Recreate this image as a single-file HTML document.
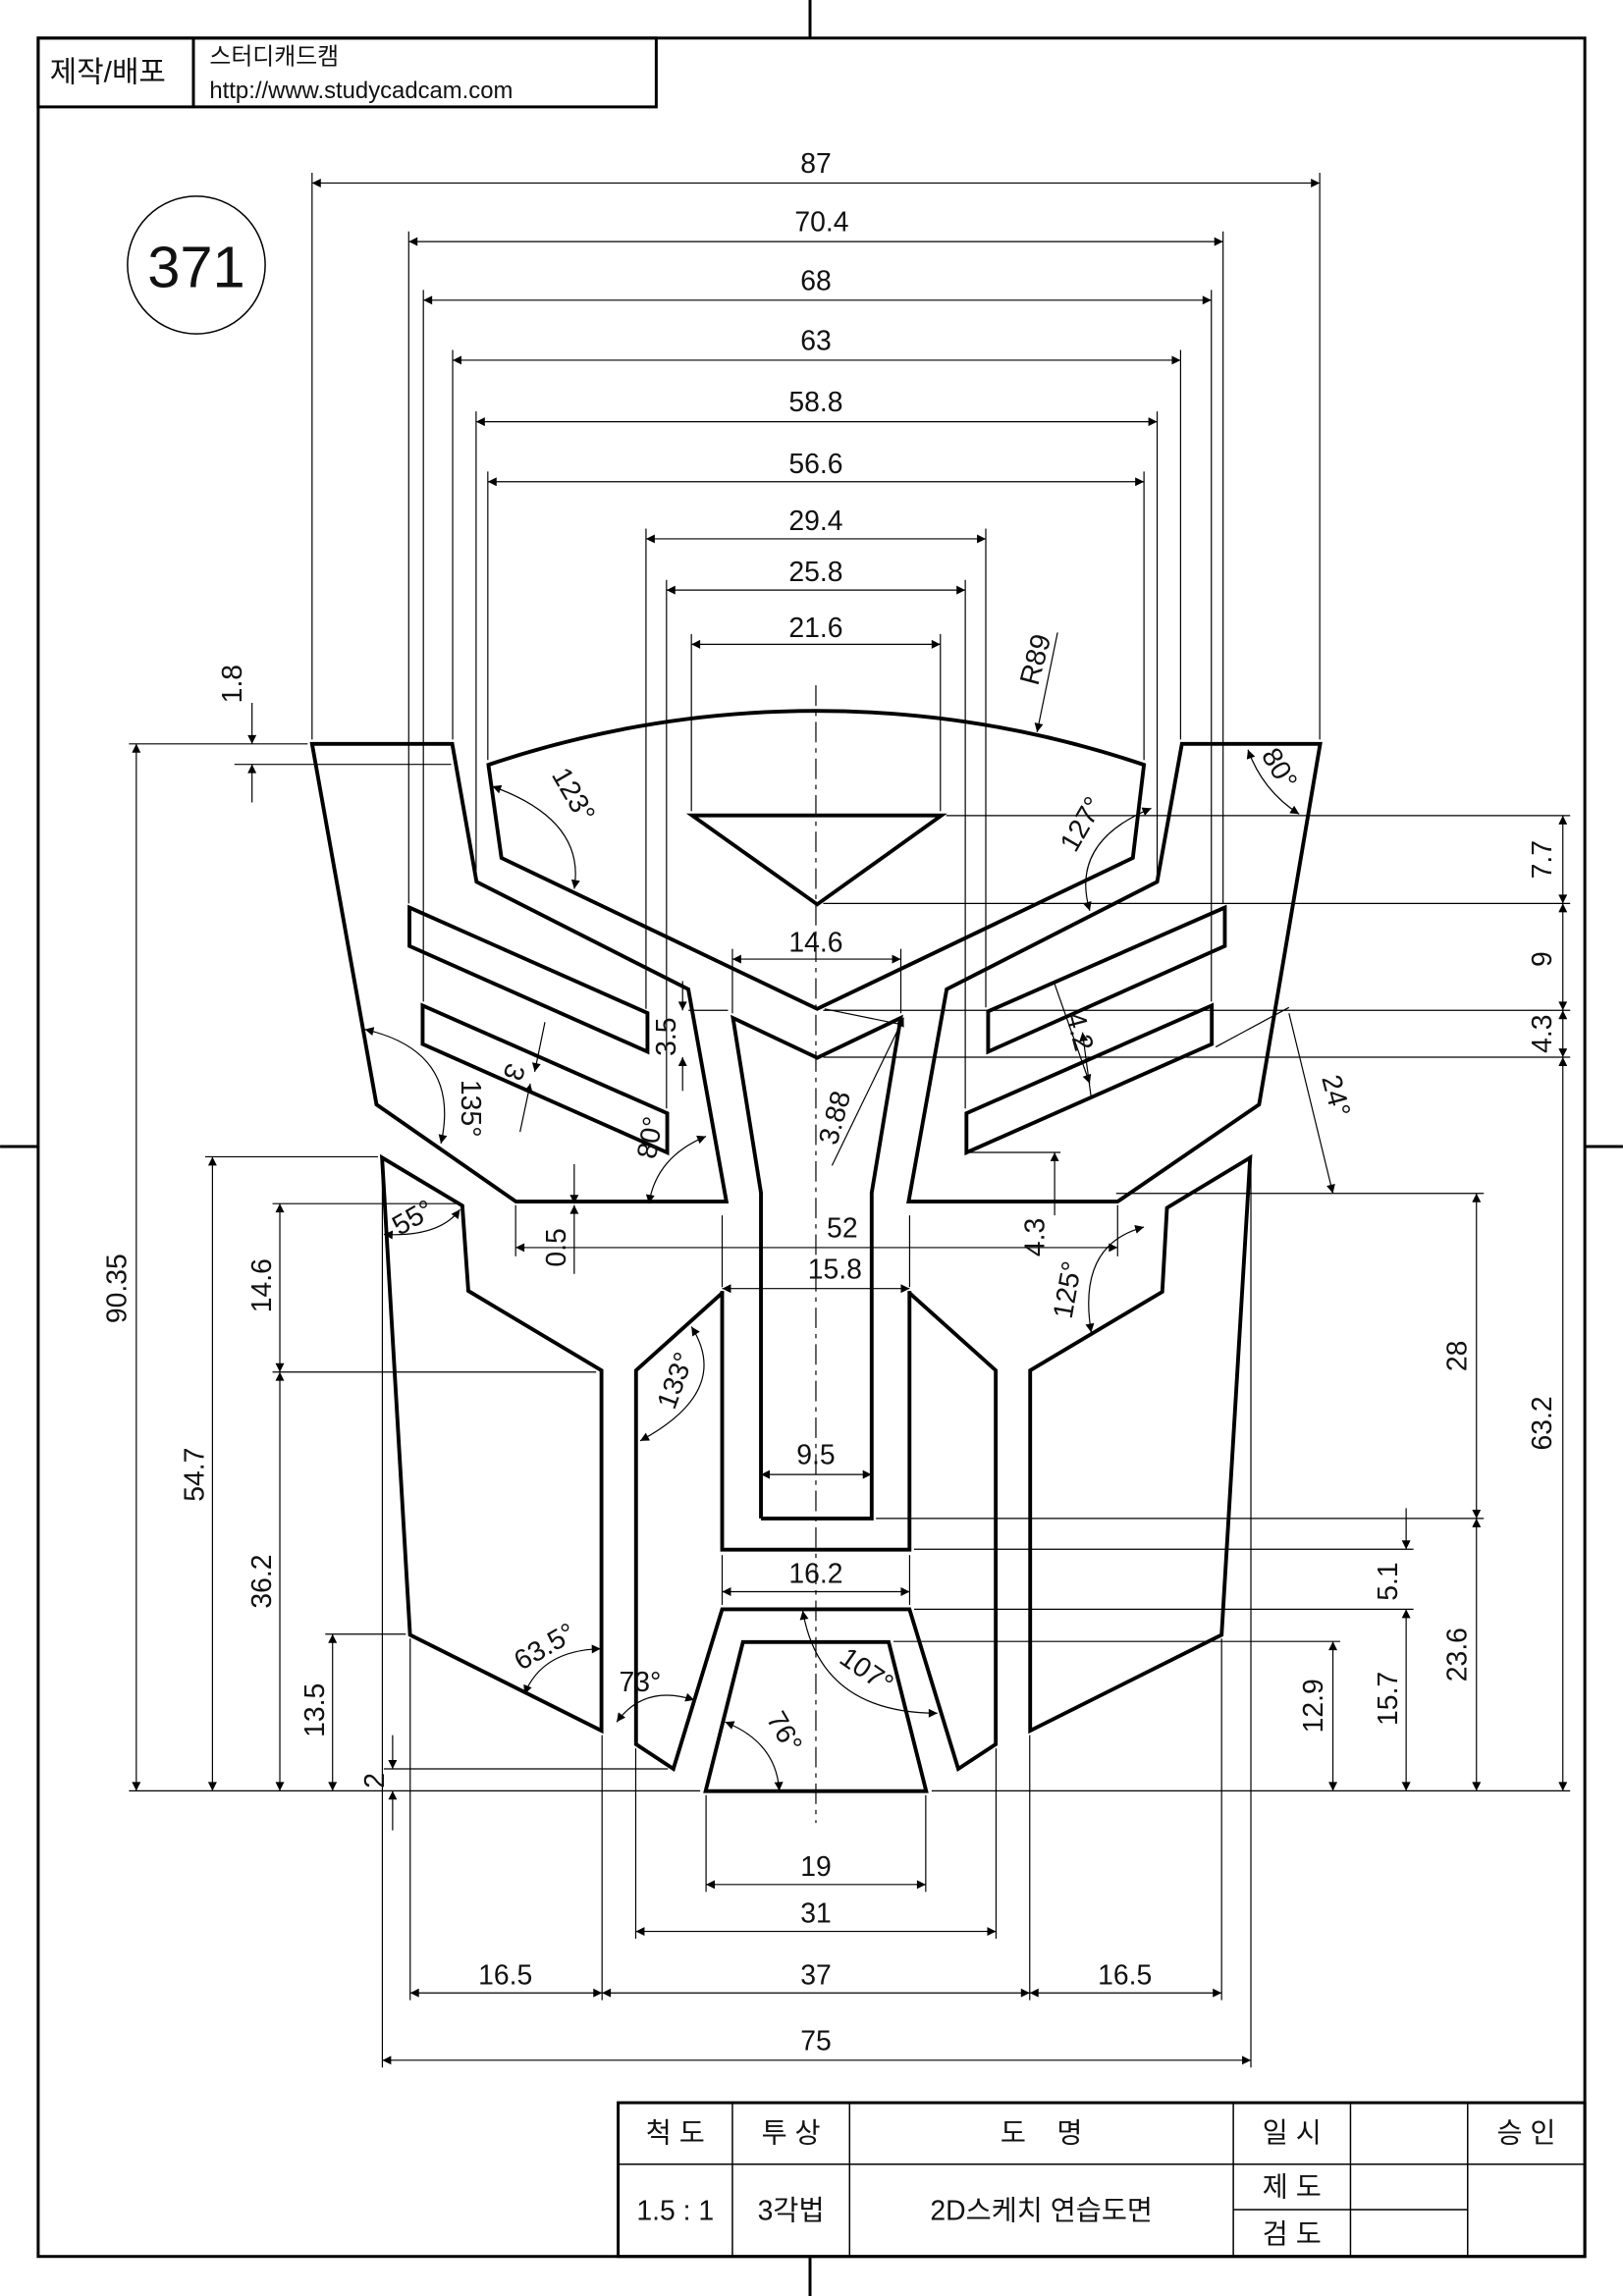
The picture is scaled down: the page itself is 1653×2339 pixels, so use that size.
<!DOCTYPE html>
<html><head><meta charset="utf-8">
<style>
html,body{margin:0;padding:0;background:#fff;}
svg{display:block;}
text{font-family:"Liberation Sans","Noto Sans CJK KR",sans-serif;fill:#111;}
</style></head>
<body>
<svg xmlns="http://www.w3.org/2000/svg" width="1653" height="2339" viewBox="0 0 1108 1568">
<defs>
<marker id="a" viewBox="0 0 10 10" refX="10" refY="5" markerWidth="14" markerHeight="6" markerUnits="userSpaceOnUse" orient="auto-start-reverse"><path d="M0,0 L10,5 L0,10 z" fill="#000"/></marker>
</defs>
<rect width="1108" height="1568" fill="#fff"/>
<g stroke="#000" fill="none" stroke-width="2">
<rect x="26" y="26" width="1056" height="1515"/>
<line x1="553" y1="0" x2="553" y2="26"/><line x1="553" y1="1541" x2="553" y2="1568"/>
<line x1="0" y1="783" x2="26" y2="783"/><line x1="1082" y1="783" x2="1108" y2="783"/>
<rect x="26" y="26" width="422" height="47"/>
<line x1="132" y1="26" x2="132" y2="73"/>
<rect x="422" y="1436" width="660" height="105"/>
</g>
<g stroke="#000" fill="none" stroke-width="1">
<line x1="422" y1="1478" x2="1082" y2="1478"/>
<line x1="500" y1="1436" x2="500" y2="1541"/><line x1="580" y1="1436" x2="580" y2="1541"/>
<line x1="842" y1="1436" x2="842" y2="1541"/><line x1="922" y1="1436" x2="922" y2="1541"/>
<line x1="1002" y1="1436" x2="1002" y2="1541"/>
<line x1="842" y1="1509" x2="1002" y2="1509"/>
<circle cx="134" cy="181" r="47"/>
</g>
<text x="34" y="56" font-size="20">제작/배포</text>
<text x="143" y="44" font-size="16">스터디캐드캠</text>
<text x="143" y="67" font-size="16">http://www.studycadcam.com</text>
<text x="134" y="196" font-size="40" text-anchor="middle">371</text>
<g font-size="19" text-anchor="middle">
<text x="461" y="1463">척 도</text><text x="540" y="1463">투 상</text>
<text x="711" y="1463">도 &#160;&#160;&#160;명</text><text x="882" y="1463">일 시</text>
<text x="1042" y="1463">승 인</text>
<text x="461" y="1516">1.5 : 1</text><text x="540" y="1516">3각법</text>
<text x="711" y="1516">2D스케치 연습도면</text>
<text x="882" y="1500">제 도</text><text x="882" y="1532">검 도</text>
</g>

<line x1="557" y1="468" x2="557" y2="1245" stroke="#000" stroke-width="0.8" stroke-dasharray="14,4,3,4"/>

<g stroke="#000" fill="none" stroke-width="2.6" stroke-linejoin="miter">
<polygon points="213,508 308.7,508 325.3,602.2 469.9,675.6 495.9,820.6 352.2,820.6 257,754.3"/>
<polygon points="901.3,508 806.9,508 790,602.2 646.3,675.6 620.3,820.6 763,820.6 859.6,754.3"/>
<path d="M333.4,522.3 A699,699 0 0 1 781,522.3 L773.4,585.9 L557.9,689 L342.3,585.9 Z"/>
<polygon points="472.5,556.9 642.7,556.9 557.9,617.6"/>
<polyline points="519.5,1037 519.5,814.6 500.4,695.2 557.9,722.4 614.9,695.2 595.1,814.6 595.1,1037 519.5,1037"/>
<polyline points="493,881.6 493,1058.3 620.9,1058.3 620.9,881.6"/>
<polyline points="493,883 434.2,935.9 434.2,1191.2 459.7,1208 493,1099 620.9,1099 654.2,1208 679.8,1191.2 679.8,935.9 620.9,883"/>
<polygon points="507.2,1121.4 606.7,1121.4 632.3,1223.2 481.7,1223.2"/>
<polygon points="260.8,790.6 315.6,823.4 319.7,881.6 410.6,935.9 410.6,1181.9 279.9,1116.5"/>
<polygon points="853.5,790.6 796.7,824.9 793.5,882.2 703.3,935.9 703.3,1181.9 834,1116.5"/>
<polygon points="279.5,619.8 442,691.8 442,718.2 279.5,646.1"/>
<polygon points="288.5,686.7 455.5,760.3 455.5,787.1 288.5,713"/>
<polygon points="836.2,619.8 674.6,690.7 674.6,718.2 836.2,646.1"/>
<polygon points="827.3,686.7 659.8,760.3 659.8,787.1 827.3,713"/>
</g>

<g stroke="#000" stroke-width="0.8" fill="none">
<line x1="213" y1="118" x2="213" y2="505"/><line x1="901" y1="118" x2="901" y2="505"/>
<line x1="279" y1="158" x2="279" y2="617"/><line x1="835" y1="158" x2="835" y2="617"/>
<line x1="289" y1="198" x2="289" y2="684"/><line x1="827" y1="198" x2="827" y2="684"/>
<line x1="309" y1="239" x2="309" y2="505"/><line x1="806" y1="239" x2="806" y2="505"/>
<line x1="325" y1="281" x2="325" y2="600"/><line x1="790" y1="281" x2="790" y2="600"/>
<line x1="333" y1="322" x2="333" y2="519"/><line x1="781" y1="322" x2="781" y2="519"/>
<line x1="441" y1="361" x2="441" y2="689"/><line x1="673" y1="361" x2="673" y2="688"/>
<line x1="455" y1="396" x2="455" y2="757"/><line x1="659" y1="396" x2="659" y2="757"/>
<line x1="472" y1="433" x2="472" y2="554"/><line x1="642" y1="433" x2="642" y2="554"/>
<line x1="500" y1="648" x2="500" y2="692"/><line x1="615" y1="648" x2="615" y2="692"/>
<line x1="352" y1="823" x2="352" y2="858"/><line x1="763" y1="823" x2="763" y2="858"/>
<line x1="493" y1="830" x2="493" y2="879"/><line x1="621" y1="830" x2="621" y2="879"/>
<line x1="493" y1="1062" x2="493" y2="1096"/><line x1="621" y1="1062" x2="621" y2="1096"/>
<line x1="482" y1="1226" x2="482" y2="1292"/><line x1="632" y1="1226" x2="632" y2="1292"/>
<line x1="434" y1="1194" x2="434" y2="1324"/><line x1="680" y1="1194" x2="680" y2="1324"/>
<line x1="280" y1="1119" x2="280" y2="1366"/><line x1="411" y1="1185" x2="411" y2="1366"/>
<line x1="703" y1="1185" x2="703" y2="1366"/><line x1="834" y1="1119" x2="834" y2="1366"/>
<line x1="261" y1="793" x2="261" y2="1412"/><line x1="854" y1="793" x2="854" y2="1412"/>
<line x1="88" y1="508" x2="210" y2="508"/><line x1="160" y1="522" x2="308" y2="522"/>
<line x1="140" y1="790" x2="258" y2="790"/><line x1="186" y1="822" x2="312" y2="822"/>
<line x1="186" y1="937" x2="407" y2="937"/><line x1="222" y1="1116" x2="277" y2="1116"/>
<line x1="88" y1="1223" x2="478" y2="1223"/><line x1="262" y1="1208" x2="456" y2="1208"/>
<line x1="646" y1="557" x2="1072" y2="557"/><line x1="562" y1="617" x2="1072" y2="617"/>
<line x1="562" y1="690" x2="1072" y2="690"/><line x1="562" y1="722" x2="1072" y2="722"/>
<line x1="762" y1="815" x2="1013" y2="815"/><line x1="598" y1="1037" x2="1013" y2="1037"/>
<line x1="624" y1="1058" x2="965" y2="1058"/><line x1="624" y1="1099" x2="965" y2="1099"/>
<line x1="610" y1="1121" x2="915" y2="1121"/><line x1="636" y1="1223" x2="1072" y2="1223"/>
<line x1="470" y1="690" x2="497" y2="690"/>
<line x1="660" y1="787" x2="724" y2="787"/>
</g>

<g stroke="#000" stroke-width="0.8" fill="none" marker-start="url(#a)" marker-end="url(#a)">
<line x1="213" y1="125" x2="901" y2="125"/>
<line x1="279" y1="165" x2="835" y2="165"/>
<line x1="289" y1="205" x2="827" y2="205"/>
<line x1="309" y1="246" x2="806" y2="246"/>
<line x1="325" y1="288" x2="790" y2="288"/>
<line x1="333" y1="329" x2="781" y2="329"/>
<line x1="441" y1="368" x2="673" y2="368"/>
<line x1="455" y1="403" x2="659" y2="403"/>
<line x1="472" y1="440" x2="642" y2="440"/>
<line x1="500" y1="655" x2="615" y2="655"/>
<line x1="352" y1="852" x2="763" y2="852"/>
<line x1="493" y1="880" x2="621" y2="880"/>
<line x1="519.5" y1="1007" x2="595" y2="1007"/>
<line x1="493" y1="1087" x2="621" y2="1087"/>
<line x1="482" y1="1287" x2="632" y2="1287"/>
<line x1="434" y1="1319" x2="680" y2="1319"/>
<line x1="280" y1="1361" x2="411" y2="1361"/>
<line x1="411" y1="1361" x2="703" y2="1361"/>
<line x1="703" y1="1361" x2="834" y2="1361"/>
<line x1="261" y1="1407" x2="854" y2="1407"/>
<line x1="93" y1="508" x2="93" y2="1223"/>
<line x1="145" y1="790" x2="145" y2="1223"/>
<line x1="191" y1="822" x2="191" y2="937"/>
<line x1="191" y1="937" x2="191" y2="1223"/>
<line x1="227" y1="1116" x2="227" y2="1223"/>
<line x1="1067" y1="557" x2="1067" y2="617"/>
<line x1="1067" y1="617" x2="1067" y2="690"/>
<line x1="1067" y1="690" x2="1067" y2="722"/>
<line x1="1067" y1="722" x2="1067" y2="1223"/>
<line x1="1008" y1="815" x2="1008" y2="1037"/>
<line x1="1008" y1="1037" x2="1008" y2="1223"/>
<line x1="960" y1="1099" x2="960" y2="1223"/>
<line x1="910" y1="1121" x2="910" y2="1223"/>
</g>
<g stroke="#000" stroke-width="0.8" fill="none" marker-end="url(#a)">
<line x1="172" y1="480" x2="172" y2="508"/><line x1="172" y1="548" x2="172" y2="522"/>
<line x1="268" y1="1185" x2="268" y2="1208"/><line x1="268" y1="1250" x2="268" y2="1223"/>
<line x1="960" y1="1030" x2="960" y2="1058"/>
<line x1="466" y1="670" x2="466" y2="690"/><line x1="466" y1="745" x2="466" y2="722"/>
<line x1="392" y1="795" x2="392" y2="822"/><line x1="392" y1="870" x2="392" y2="823"/>
<line x1="720" y1="830" x2="720" y2="787"/>
<line x1="722" y1="432" x2="708" y2="500"/>
<line x1="372" y1="698" x2="365" y2="732"/><line x1="355" y1="773" x2="362" y2="740"/>
<line x1="720" y1="672" x2="744" y2="740"/><line x1="745" y1="750" x2="739" y2="705"/>
<line x1="568" y1="796" x2="617" y2="695"/>
<line x1="880" y1="692" x2="910" y2="815"/>
</g>
<g stroke="#000" stroke-width="0.8" fill="none">
<line x1="612" y1="699" x2="563" y2="689"/>
<line x1="880" y1="688" x2="830" y2="715"/>
<path d="M336,537 Q400,560 392,607" marker-start="url(#a)" marker-end="url(#a)"/>
<path d="M786,552 Q730,575 744,622" marker-start="url(#a)" marker-end="url(#a)"/>
<path d="M852,512 Q862,540 887,556" marker-start="url(#a)" marker-end="url(#a)"/>
<path d="M249,703 Q315,718 301,781" marker-start="url(#a)" marker-end="url(#a)"/>
<path d="M443,822 Q448,790 482,776" marker-start="url(#a)" marker-end="url(#a)"/>
<path d="M262,843 Q300,845 314,826" marker-start="url(#a)" marker-end="url(#a)"/>
<path d="M781,838 Q735,850 745,910" marker-start="url(#a)" marker-end="url(#a)"/>
<path d="M472,906 Q500,950 437,984" marker-start="url(#a)" marker-end="url(#a)"/>
<path d="M358,1157 Q370,1127 410,1126" marker-start="url(#a)" marker-end="url(#a)"/>
<path d="M421,1176 Q440,1150 474,1161" marker-start="url(#a)" marker-end="url(#a)"/>
<path d="M548,1100 Q560,1170 640,1170" marker-start="url(#a)" marker-end="url(#a)"/>
<path d="M495,1176 Q530,1190 532,1223" marker-start="url(#a)" marker-end="url(#a)"/>
</g>

<g font-size="19" text-anchor="middle">
<text x="557" y="118">87</text><text x="561" y="158">70.4</text>
<text x="557" y="198">68</text><text x="557" y="239">63</text>
<text x="557" y="281">58.8</text><text x="557" y="323">56.6</text>
<text x="557" y="362">29.4</text><text x="557" y="397">25.8</text>
<text x="557" y="435">21.6</text><text x="557" y="650">14.6</text>
<text x="575" y="845">52</text><text x="570" y="873">15.8</text>
<text x="557" y="1000">9.5</text><text x="557" y="1081">16.2</text>
<text x="557" y="1281">19</text><text x="557" y="1313">31</text>
<text x="345" y="1355">16.5</text><text x="557" y="1355">37</text><text x="768" y="1355">16.5</text>
<text x="557" y="1400">75</text>
<text transform="translate(86,880) rotate(-90)">90.35</text>
<text transform="translate(139,1007) rotate(-90)">54.7</text>
<text transform="translate(185,878) rotate(-90)">14.6</text>
<text transform="translate(185,1080) rotate(-90)">36.2</text>
<text transform="translate(221,1168) rotate(-90)">13.5</text>
<text transform="translate(262,1216) rotate(-90)">2</text>
<text transform="translate(165,467) rotate(-90)">1.8</text>
<text transform="translate(1059,587) rotate(-90)">7.7</text>
<text transform="translate(1059,655) rotate(-90)">9</text>
<text transform="translate(1059,706) rotate(-90)">4.3</text>
<text transform="translate(1059,972) rotate(-90)">63.2</text>
<text transform="translate(1001,926) rotate(-90)">28</text>
<text transform="translate(1001,1130) rotate(-90)">23.6</text>
<text transform="translate(954,1080) rotate(-90)">5.1</text>
<text transform="translate(954,1160) rotate(-90)">15.7</text>
<text transform="translate(903,1165) rotate(-90)">12.9</text>
<text transform="translate(461,708) rotate(-90)">3.5</text>
<text transform="translate(386,852) rotate(-90)">0.5</text>
<text transform="translate(713,845) rotate(-90)">4.3</text>
<text transform="translate(713,452) rotate(-75)">R89</text>
<text transform="translate(386,546) rotate(60)">123°</text>
<text transform="translate(744,566) rotate(-60)">127°</text>
<text transform="translate(868,528) rotate(60)">80°</text>
<text transform="translate(315,757) rotate(90)">135°</text>
<text transform="translate(345,730) rotate(110)">3</text>
<text transform="translate(450,778) rotate(-80)">80°</text>
<text transform="translate(576,765) rotate(-75)">3.88</text>
<text transform="translate(731,706) rotate(75)">4.2</text>
<text transform="translate(906,750) rotate(75)">24°</text>
<text transform="translate(285,837) rotate(-30)">55°</text>
<text transform="translate(735,882) rotate(-80)">125°</text>
<text transform="translate(467,945) rotate(-70)">133°</text>
<text transform="translate(375,1130) rotate(-30)">63.5°</text>
<text x="437" y="1155">73°</text>
<text transform="translate(588,1146) rotate(35)">107°</text>
<text transform="translate(530,1186) rotate(60)">76°</text>
</g>
</svg>
</body></html>
